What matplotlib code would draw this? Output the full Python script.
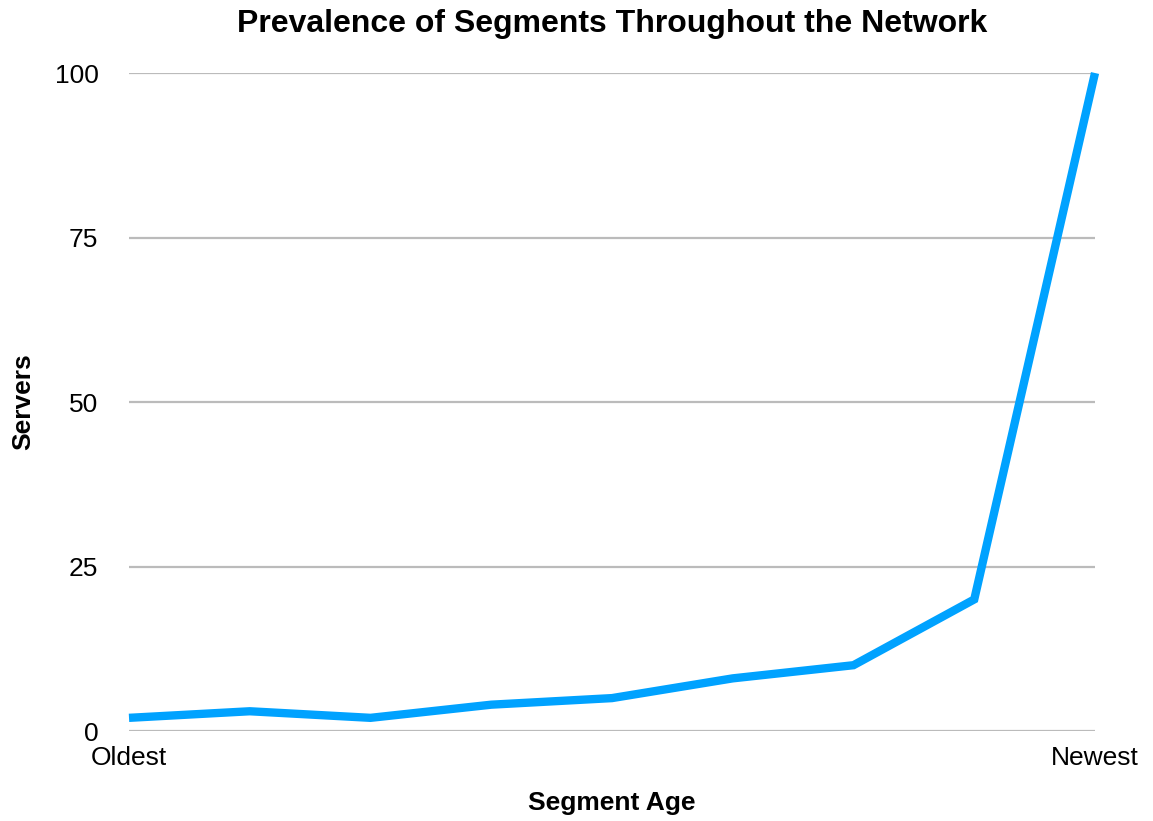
import matplotlib
matplotlib.use("Agg")
import matplotlib.pyplot as plt

plt.rcParams['font.family'] = ['Liberation Sans', 'DejaVu Sans']

positions = list(range(9))
servers = [2, 3, 2, 4, 5, 8, 10, 20, 100]
x_tick_pos = [0, 8]
x_tick_labels = ["Oldest", "Newest"]
y_ticks = [0, 25, 50, 75, 100]

W, H = 1153, 821
fig = plt.figure(figsize=(W/100, H/100), dpi=100)
ax = fig.add_axes([129/W, 1-731/H, (1095-129)/W, (731-73)/H])

for y in y_ticks:
    ax.axhline(y, color='#bbbbbb', linewidth=1.6, zorder=1)

ax.plot(positions, servers, color='#00a2ff', linewidth=6, solid_capstyle='butt',
        solid_joinstyle='miter', zorder=3, clip_on=False)

ax.set_xlim(0, 8)
ax.set_ylim(0, 100)
ax.set_yticks(y_ticks)
ax.set_xticks(x_tick_pos)
ax.set_xticklabels(x_tick_labels)
for s in ax.spines.values():
    s.set_visible(False)
ax.tick_params(axis='both', length=0, labelsize=19)
ax.tick_params(axis='y', pad=22)
ax.tick_params(axis='x', pad=11)

fig.text(612/W, 1-803/H, "Segment Age", ha='center', va='center',
         fontsize=19, fontweight='bold')
fig.text(23/W, 1-402/H, "Servers", ha='center', va='center', rotation=90,
         fontsize=19, fontweight='bold')
fig.text(612/W, 1-24/H, "Prevalence of Segments Throughout the Network",
         ha='center', va='center', fontsize=23, fontweight='bold')

fig.savefig("out.png", dpi=100)
